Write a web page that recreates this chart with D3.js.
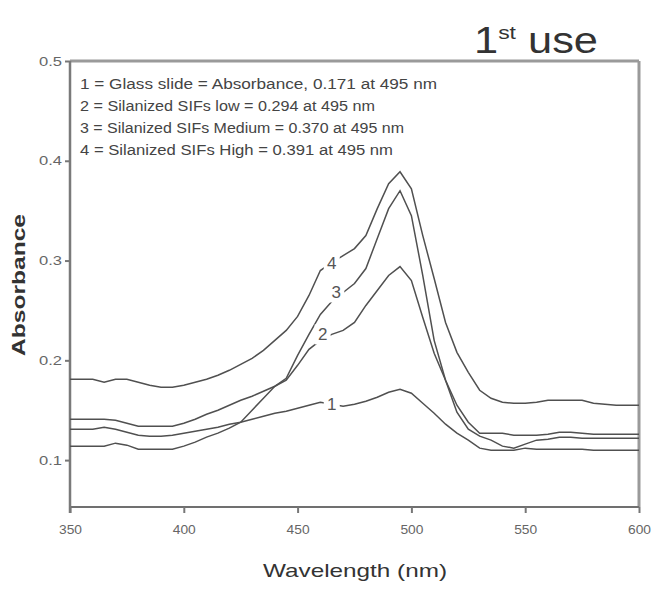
<!DOCTYPE html>
<html><head><meta charset="utf-8">
<script src="https://cdn.jsdelivr.net/npm/d3@7"></script>
<style>body{margin:0;background:#fff} svg{display:block}</style>
</head><body><svg id="c" width="652" height="589"></svg>
<script>
const wavelengths = [350,355,360,365,370,375,380,385,390,395,400,405,410,415,420,425,430,435,440,445,450,455,460,465,470,475,480,485,490,495,500,505,510,515,520,525,530,535,540,545,550,555,560,565,570,575,580,585,590,595,600];
const glassSlide = [0.131,0.131,0.131,0.133,0.131,0.128,0.125,0.124,0.124,0.125,0.127,0.129,0.131,0.133,0.136,0.138,0.141,0.144,0.147,0.149,0.152,0.155,0.158,0.156,0.154,0.156,0.159,0.163,0.168,0.171,0.167,0.157,0.147,0.136,0.127,0.120,0.112,0.110,0.110,0.110,0.112,0.111,0.111,0.111,0.111,0.111,0.110,0.110,0.110,0.110,0.110];
const sifLow = [0.141,0.141,0.141,0.141,0.140,0.137,0.134,0.134,0.134,0.134,0.137,0.141,0.146,0.150,0.155,0.160,0.164,0.169,0.174,0.180,0.195,0.211,0.220,0.226,0.230,0.238,0.255,0.270,0.285,0.294,0.280,0.243,0.207,0.180,0.155,0.138,0.127,0.127,0.127,0.125,0.125,0.125,0.126,0.128,0.128,0.127,0.126,0.126,0.126,0.126,0.126];
const sifMedium = [0.114,0.114,0.114,0.114,0.117,0.115,0.111,0.111,0.111,0.111,0.114,0.118,0.123,0.127,0.132,0.138,0.150,0.162,0.174,0.182,0.205,0.226,0.246,0.259,0.268,0.277,0.292,0.322,0.352,0.370,0.345,0.285,0.220,0.180,0.148,0.131,0.124,0.120,0.114,0.112,0.116,0.120,0.121,0.123,0.123,0.122,0.122,0.122,0.122,0.122,0.122];
const sifHigh = [0.181,0.181,0.181,0.178,0.181,0.181,0.178,0.175,0.173,0.173,0.175,0.178,0.181,0.185,0.190,0.196,0.202,0.210,0.220,0.230,0.244,0.265,0.290,0.298,0.305,0.312,0.325,0.352,0.377,0.389,0.372,0.325,0.282,0.238,0.208,0.188,0.170,0.162,0.158,0.157,0.157,0.158,0.160,0.160,0.160,0.160,0.157,0.156,0.155,0.155,0.155];
const seriesLabels = ["1","2","3","4"];
const labelWavelengths = [465, 461, 467, 465];
const legendLines = [
  "1 = Glass slide = Absorbance, 0.171 at 495 nm",
  "2 = Silanized SIFs low = 0.294 at 495 nm",
  "3 = Silanized SIFs Medium = 0.370 at 495 nm",
  "4 = Silanized SIFs High = 0.391 at 495 nm"
];
const xTicks = [350,400,450,500,550,600];
const yTicks = [0.1,0.2,0.3,0.4,0.5];

const allSeries = [glassSlide, sifLow, sifMedium, sifHigh];
const legendWidths = [357, 295, 324, 313];
const FONT = "Liberation Sans, Arial, sans-serif";
const svg = d3.select("#c");
const L = 70, R = 639, T = 61, B = 507;
const x = d3.scaleLinear().domain([350,600]).range([L,R]);
const y = d3.scaleLinear().domain([0.053,0.5]).range([B,T]);

// frame
svg.append("line").attr("x1",L).attr("x2",R).attr("y1",T).attr("y2",T).attr("stroke","#9a9a9a").attr("stroke-width",3);
svg.append("line").attr("x1",R).attr("x2",R).attr("y1",T).attr("y2",B).attr("stroke","#9a9a9a").attr("stroke-width",3);
svg.append("line").attr("x1",L).attr("x2",R).attr("y1",B).attr("y2",B).attr("stroke","#707070").attr("stroke-width",2);
svg.append("line").attr("x1",L).attr("x2",L).attr("y1",T).attr("y2",B+6).attr("stroke","#7a7a7a").attr("stroke-width",2.5);

// axes
const yAxis = svg.append("g").attr("transform",`translate(${L},0)`)
  .call(d3.axisLeft(y).tickValues(yTicks).tickSize(5).tickPadding(3).tickFormat(d3.format(".1f")));
yAxis.select(".domain").remove();
yAxis.selectAll("line").attr("stroke","#777").attr("stroke-width",2);
yAxis.selectAll("text").attr("fill","#666").style("font-family",FONT).style("font-size","13px")
  .attr("textLength",23).attr("lengthAdjust","spacingAndGlyphs");

const xAxis = svg.append("g").attr("transform",`translate(0,${B})`)
  .call(d3.axisBottom(x).tickValues(xTicks).tickSize(6).tickPadding(12).tickFormat(d3.format("d")));
xAxis.select(".domain").remove();
xAxis.selectAll("line").attr("stroke","#777").attr("stroke-width",2);
xAxis.selectAll("text").attr("fill","#666").style("font-family",FONT).style("font-size","13px")
  .attr("textLength",23).attr("lengthAdjust","spacingAndGlyphs");

// curves
const line = d3.line().x(d=>x(d[0])).y(d=>y(d[1]));
allSeries.forEach(s=>{
  svg.append("path").datum(wavelengths.map((w,i)=>[w,s[i]]))
    .attr("fill","none").attr("stroke","#505050").attr("stroke-width",1.5).attr("d",line);
});

// curve labels
allSeries.forEach((s,i)=>{
  const w = labelWavelengths[i];
  const k = d3.bisectLeft(wavelengths, w);
  const v = s[k];
  const cx = x(w), cy = y(v);
  svg.append("rect").attr("x",cx-8).attr("y",cy-10).attr("width",16).attr("height",20).attr("fill","#fff");
  svg.append("text").attr("x",cx).attr("y",cy+6).attr("text-anchor","middle")
    .attr("fill","#555").style("font-family",FONT).style("font-size","17px")
    .text(seriesLabels[i]);
});

// legend text
svg.selectAll(".leg").data(legendLines).enter().append("text")
  .attr("x",80).attr("y",(d,i)=>89+i*22)
  .attr("textLength",(d,i)=>legendWidths[i]).attr("lengthAdjust","spacingAndGlyphs")
  .attr("fill","#444").style("font-family",FONT).style("font-size","14px")
  .text(d=>d);

// title
const t = svg.append("text").attr("x",474).attr("y",53).attr("fill","#333")
  .attr("textLength",124).attr("lengthAdjust","spacingAndGlyphs")
  .style("font-family",FONT).style("font-size","36px");
t.append("tspan").text("1");
t.append("tspan").attr("dy",-14).style("font-size","19px").text("st");
t.append("tspan").attr("dy",14).text(" use");

// axis titles
svg.append("text").attr("x",355).attr("y",577).attr("text-anchor","middle").attr("fill","#333")
  .attr("textLength",184).attr("lengthAdjust","spacingAndGlyphs")
  .style("font-family",FONT).style("font-size","19px").text("Wavelength (nm)");
svg.append("text").attr("transform","translate(25,285) rotate(-90)").attr("text-anchor","middle").attr("fill","#333")
  .attr("textLength",142).attr("lengthAdjust","spacingAndGlyphs")
  .style("font-family",FONT).style("font-size","19px").style("font-weight","bold").text("Absorbance");
</script></body></html>
